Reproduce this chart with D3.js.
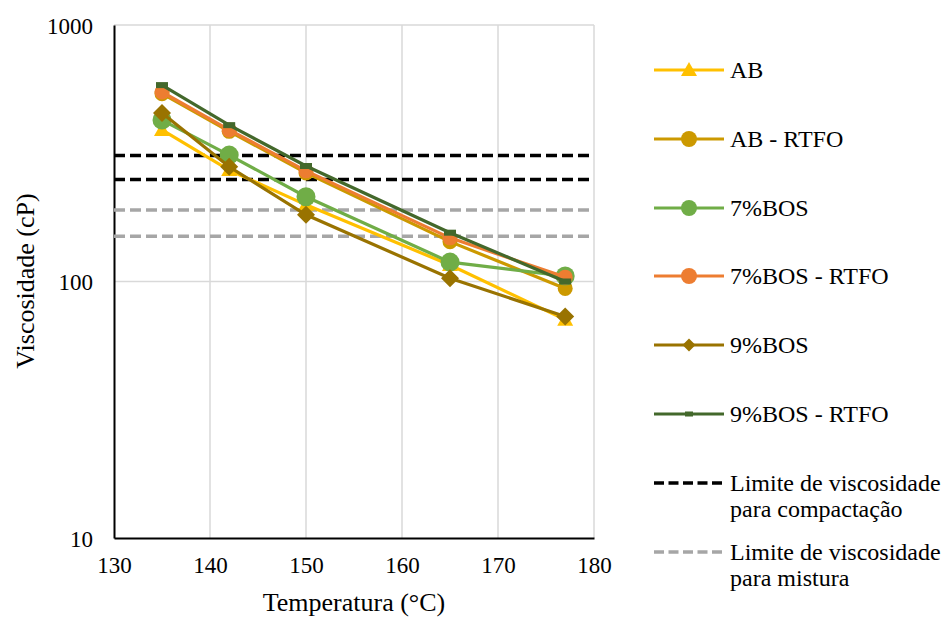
<!DOCTYPE html>
<html><head><meta charset="utf-8">
<script src="https://cdn.jsdelivr.net/npm/d3@7"></script>
<style>body{margin:0;background:#fff}svg{display:block}svg text{font-family:"Liberation Serif","Times New Roman",serif !important;fill:#000}</style>
</head><body>
<svg id="c" width="943" height="617"></svg>
<script>
const temps = [135, 142, 150, 165, 177];
const seriesNames = ["AB", "AB - RTFO", "7%BOS", "7%BOS - RTFO", "9%BOS", "9%BOS - RTFO"];
const AB = [390, 272, 199, 116, 71];
const AB_RTFO = [540, 385, 265, 143, 94];
const BOS7 = [426, 311, 214, 119, 105];
const BOS7_RTFO = [548, 390, 270, 148, 104];
const BOS9 = [454, 280, 182, 103, 73];
const BOS9_RTFO = [583, 407, 282, 155, 100];
const limitX = [130, 180];
const compactLimits = [310, 250];
const mixLimits = [190, 150];
const xTicks = [130, 140, 150, 160, 170, 180];
const yTicks = [10, 100, 1000];
const limitNames = ["Limite de viscosidade|para compactação", "Limite de viscosidade|para mistura"];

const FONT = '"Liberation Serif", "Times New Roman", serif';
const svg = d3.select("#c");
const L = 114, R = 594, T = 25, B = 538;
const x = d3.scaleLinear().domain([130, 180]).range([L, R]);
const y = d3.scaleLog().domain([10, 1000]).range([B, T]);

// gridlines
const g = svg.append("g");
g.selectAll(".vg").data(xTicks.slice(1)).join("line")
  .attr("x1", d => x(d)).attr("x2", d => x(d)).attr("y1", T).attr("y2", B)
  .attr("stroke", "#d9d9d9").attr("stroke-width", 1.5);
g.selectAll(".hg").data(yTicks.slice(1)).join("line")
  .attr("x1", L).attr("x2", R).attr("y1", d => y(d)).attr("y2", d => y(d))
  .attr("stroke", "#d9d9d9").attr("stroke-width", 1.5);

// axes
const xa = svg.append("g").attr("transform", `translate(0,${B})`)
  .call(d3.axisBottom(x).tickValues(xTicks).tickSize(0).tickPadding(19).tickFormat(d3.format("d")));
const ya = svg.append("g").attr("transform", `translate(${L},0)`)
  .call(d3.axisLeft(y).tickValues(yTicks).tickSize(0).tickPadding(21).tickFormat(d3.format("d")));
[xa, ya].forEach(a => {
  a.attr("font-family", FONT).attr("font-size", 23);
  a.select(".domain").attr("stroke", "#000").attr("stroke-width", 2);
  a.selectAll("text").attr("font-size", 23).attr("font-family", FONT);
});
ya.selectAll("text").attr("dy", "0.35em");

svg.append("text").attr("x", 354).attr("y", 611).attr("text-anchor", "middle").attr("font-family", FONT).attr("font-size", 26).text("Temperatura (°C)");
svg.append("text").attr("transform", "translate(34,281) rotate(-90)").attr("text-anchor", "middle").attr("font-family", FONT).attr("font-size", 26).text("Viscosidade (cP)");

// limit lines
const limits = [
  {vals: compactLimits, color: "#000"},
  {vals: mixLimits, color: "#a6a6a6"}
];
limits.forEach(l => {
  l.vals.forEach(v => {
    svg.append("path").datum(limitX.map(t => [t, v]))
      .attr("d", d3.line().x(d => x(d[0])).y(d => y(d[1])))
      .attr("stroke", l.color).attr("stroke-width", 3.5).attr("stroke-dasharray", "11,5").attr("fill", "none");
  });
});

const series = [
  {name: seriesNames[0], vals: AB, color: "#ffc000", marker: "tri", size: 8},
  {name: seriesNames[1], vals: AB_RTFO, color: "#cc9900", marker: "circ", size: 7.5},
  {name: seriesNames[2], vals: BOS7, color: "#70ad47", marker: "circ", size: 9.5},
  {name: seriesNames[3], vals: BOS7_RTFO, color: "#ed7d31", marker: "circ", size: 7.5},
  {name: seriesNames[4], vals: BOS9, color: "#997300", marker: "dia", size: 9},
  {name: seriesNames[5], vals: BOS9_RTFO, color: "#43682b", marker: "dash", size: 6}
];
function drawMarker(sel, m, s, color) {
  if (m === "circ") sel.append("circle").attr("r", s).attr("fill", color);
  else if (m === "tri") sel.append("path").attr("d", `M0,${-s}L${s},${s*0.75}L${-s},${s*0.75}Z`).attr("fill", color);
  else if (m === "dia") sel.append("path").attr("d", `M0,${-s}L${s},0L0,${s}L${-s},0Z`).attr("fill", color);
  else if (m === "dash") sel.append("rect").attr("x", -s).attr("y", -3).attr("width", 2*s).attr("height", 6).attr("fill", color);
}
const line = d3.line().x((d, i) => x(temps[i])).y(d => y(d));
series.forEach(s => {
  svg.append("path").datum(s.vals).attr("d", line).attr("stroke", s.color).attr("stroke-width", 3.2).attr("fill", "none");
  s.vals.forEach((v, i) => {
    const m = svg.append("g").attr("transform", `translate(${x(temps[i])},${y(v)})`);
    drawMarker(m, s.marker, s.size, s.color);
  });
});

// legend
const legY = [70, 139, 208, 276, 345, 414];
const legSize = {tri: 8, circ: 8, dia: 6.5, dash: 4};
series.forEach((s, i) => {
  const gy = legY[i];
  svg.append("line").attr("x1", 654).attr("x2", 724).attr("y1", gy).attr("y2", gy).attr("stroke", s.color).attr("stroke-width", 3.2);
  const m = svg.append("g").attr("transform", `translate(689,${gy})`);
  if (s.marker === "dash") m.append("rect").attr("x", -4).attr("y", -2.5).attr("width", 8).attr("height", 5).attr("fill", s.color);
  else drawMarker(m, s.marker, legSize[s.marker], s.color);
  svg.append("text").attr("x", 730).attr("y", gy).attr("dy", "0.35em").attr("font-family", FONT).attr("font-size", 24).text(s.name);
});
[[483, "#000"], [552, "#a6a6a6"]].forEach((d, i) => {
  svg.append("line").attr("x1", 654).attr("x2", 724).attr("y1", d[0]).attr("y2", d[0]).attr("stroke", d[1]).attr("stroke-width", 3.5).attr("stroke-dasharray", "10,4.5");
  const parts = limitNames[i].split("|");
  parts.forEach((p, j) => {
    svg.append("text").attr("x", 730).attr("y", d[0] + j * 26).attr("dy", "0.35em").attr("font-family", FONT).attr("font-size", 24).text(p);
  });
});
</script>
</body></html>
